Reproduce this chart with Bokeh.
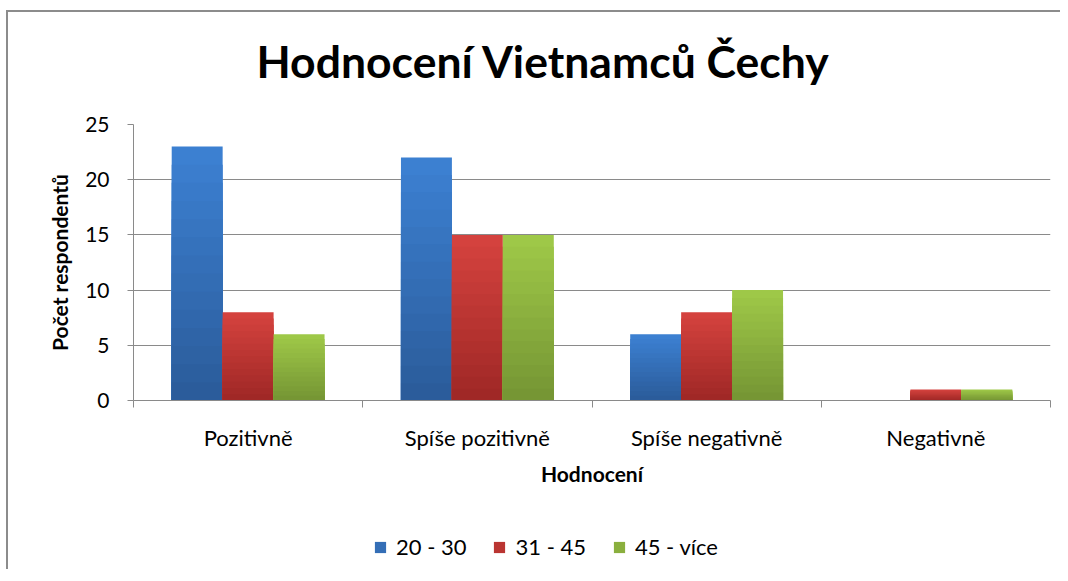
from bokeh.plotting import figure
from bokeh.layouts import column
from bokeh.models import Range1d, FixedTicker, Legend, LegendItem, Label
from bokeh.embed import file_html
from bokeh.resources import INLINE

# ---- data ----
title_text = "Hodnocení Vietnamců Čechy"
categories = ["Pozitivně", "Spíše pozitivně", "Spíše negativně", "Negativně"]
series_names = ["20 - 30", "31 - 45", "45 - více"]
values_20_30 = [23, 22, 6, 0]
values_31_45 = [8, 15, 8, 1]
values_45_vice = [6, 15, 10, 1]
y_ticks = [0, 5, 10, 15, 20, 25]
x_label = "Hodnocení"
y_label = "Počet respondentů"

series_values = [values_20_30, values_31_45, values_45_vice]

# ---- style ----
FONT = "Lato"
GRAY = "#8a8a8a"
colors_top = [(60, 128, 209), (212, 66, 62), (158, 200, 72)]
colors_bottom = [(43, 92, 155), (160, 40, 38), (118, 150, 52)]
N_LAYERS = 14
bar_w = 1 / 4.5

centers = [i + 0.5 for i in range(len(categories))]
boundaries = [float(i) for i in range(len(categories) + 1)]
offsets = [-bar_w, 0.0, bar_w]


def mix(c1, c2, t):
    r = round(c1[0] + (c2[0] - c1[0]) * t)
    g = round(c1[1] + (c2[1] - c1[1]) * t)
    b = round(c1[2] + (c2[2] - c1[2]) * t)
    return "#%02x%02x%02x" % (r, g, b)


def strip(height):
    f = figure(width=1052, height=height, x_range=Range1d(0, 1), y_range=Range1d(0, 1),
               output_backend="svg", toolbar_location=None,
               x_axis_type=None, y_axis_type=None, min_border=0)
    f.outline_line_color = None
    f.xgrid.visible = False
    f.ygrid.visible = False
    return f


# ---- title strip ----
tf = strip(100)
tf.add_layout(Label(x=123, y=52, x_units="screen", y_units="screen",
                    text=title_text, text_font=FONT, text_font_style="bold",
                    text_font_size="44.5px", text_color="black",
                    text_baseline="alphabetic", text_align="left"))

# ---- main chart ----
p = figure(width=1052, height=400,
           x_range=Range1d(0, len(categories)), y_range=Range1d(0, 25),
           output_backend="svg", toolbar_location=None,
           min_border_left=125, min_border_right=10,
           min_border_top=12, min_border_bottom=112)
p.outline_line_color = None
p.background_fill_color = "white"
p.border_fill_color = "white"

for si, vals in enumerate(series_values):
    xs = [c + offsets[si] for c in centers]
    for k in range(N_LAYERS):
        frac = 1 - k / N_LAYERS
        tops = [v * frac for v in vals]
        col = mix(colors_top[si], colors_bottom[si], k / (N_LAYERS - 1))
        p.vbar(x=xs, top=tops, bottom=0, width=bar_w,
               fill_color=col, line_color=None)

# y axis
p.yaxis.ticker = FixedTicker(ticks=y_ticks)
p.yaxis.axis_line_color = GRAY
p.yaxis.major_tick_line_color = GRAY
p.yaxis.major_tick_out = 6
p.yaxis.major_tick_in = 0
p.yaxis.minor_tick_line_color = None
p.yaxis.major_label_text_font = FONT
p.yaxis.major_label_text_font_size = "21px"
p.yaxis.major_label_text_color = "black"
p.yaxis.major_label_standoff = 18
p.yaxis.axis_label = y_label
p.yaxis.axis_label_text_font = FONT
p.yaxis.axis_label_text_font_style = "bold"
p.yaxis.axis_label_text_font_size = "21px"
p.yaxis.axis_label_text_color = "black"
p.yaxis.axis_label_standoff = 10

# x axis
p.xaxis.ticker = FixedTicker(ticks=centers, minor_ticks=boundaries)
p.xaxis.major_label_overrides = {c: cat for c, cat in zip(centers, categories)}
p.xaxis.axis_line_color = GRAY
p.xaxis.major_tick_line_color = None
p.xaxis.major_tick_out = 0
p.xaxis.major_tick_in = 0
p.xaxis.minor_tick_line_color = GRAY
p.xaxis.minor_tick_out = 7
p.xaxis.minor_tick_in = 0
p.xaxis.major_label_text_font = FONT
p.xaxis.major_label_text_font_size = "22px"
p.xaxis.major_label_text_color = "black"
p.xaxis.major_label_standoff = 16
p.xaxis.axis_label = x_label
p.xaxis.axis_label_text_font = FONT
p.xaxis.axis_label_text_font_style = "bold"
p.xaxis.axis_label_text_font_size = "21px"
p.xaxis.axis_label_text_color = "black"
p.xaxis.axis_label_standoff = 7

p.xgrid.visible = False
p.ygrid.grid_line_color = GRAY
p.ygrid.grid_line_width = 1

# ---- legend strip ----
lf = strip(57)
swatches = []
for si in range(len(series_names)):
    mid = mix(colors_top[si], colors_bottom[si], 0.5)
    # zero-height proxy bar, only used to draw the legend swatch
    swatches.append(lf.vbar(x=[0.5], top=[0], bottom=[0], width=0.0,
                            fill_color=mid, line_color=None))

legend = Legend(items=[LegendItem(label=n, renderers=[r])
                       for n, r in zip(series_names, swatches)],
                orientation="horizontal", location=(240, 9))
legend.label_text_font = FONT
legend.label_text_font_size = "22px"
legend.label_text_color = "black"
legend.glyph_width = 14
legend.glyph_height = 14
legend.spacing = 26
legend.label_standoff = 9
legend.border_line_color = None
legend.background_fill_alpha = 0
legend.margin = 0
legend.padding = 0
lf.add_layout(legend, "center")

lay = column(tf, p, lf, spacing=0,
             styles={"border-left": "2px solid #8c8c8c", "border-top": "2px solid #8c8c8c",
                     "margin-left": "6px", "margin-top": "10px"})

open("out.html", "w").write(file_html(lay, INLINE))
